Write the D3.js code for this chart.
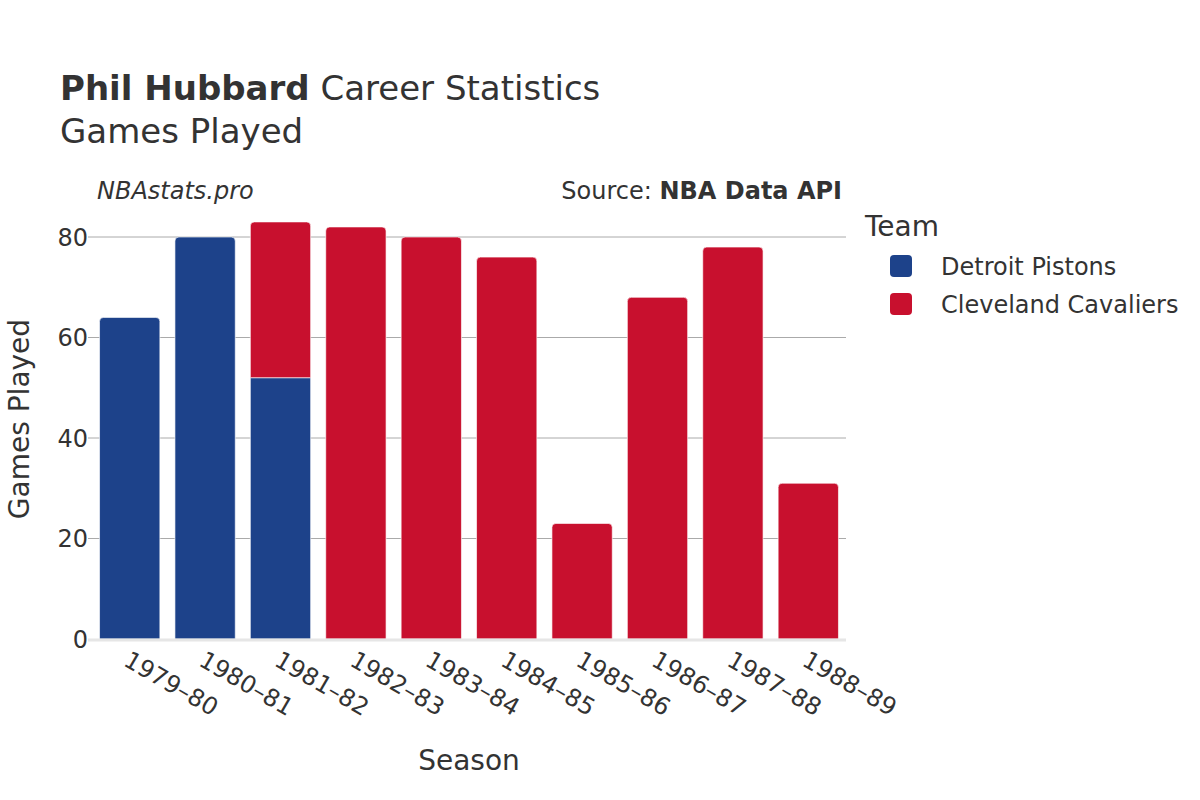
<!DOCTYPE html>
<html><head><meta charset="utf-8">
<script src="https://cdn.jsdelivr.net/npm/d3@7"></script>
<style>body{margin:0;background:#fff}svg{font-family:"DejaVu Sans",sans-serif}</style>
</head><body>
<svg id="c" width="1200" height="800"></svg>
<script>
const seasons = ["1979–80","1980–81","1981–82","1982–83","1983–84","1984–85","1985–86","1986–87","1987–88","1988–89"];
const teams = ["Detroit Pistons","Cleveland Cavaliers"];
const teamColors = ["#1d428a","#c8102e"];
const detroitGames = [64,80,52,0,0,0,0,0,0,0];
const clevelandGames = [0,0,31,82,80,76,23,68,78,31];
const yTicks = [0,20,40,60,80];

const svg = d3.select("#c");
const m = {l:92, r:846, t:213, b:639};
const x = d3.scaleBand().domain(seasons).range([m.l, m.r]).paddingInner(0.2).paddingOuter(0.1);
const y = d3.scaleLinear().domain([0,80]).range([m.b, 237]);

// grid
svg.append("g").selectAll("line").data(yTicks.filter(d=>d>0)).join("line")
  .attr("x1",m.l-4).attr("x2",m.r).attr("y1",d=>y(d)).attr("y2",d=>y(d))
  .attr("stroke","#aaaaaa").attr("stroke-width",1);

// bars
const series = [detroitGames, clevelandGames];
const r = 4;
function barPath(x0,w,y0,y1,round){
  if(!round) return `M${x0},${y0}V${y1}H${x0+w}V${y0}Z`;
  return `M${x0},${y0}V${y1+r}Q${x0},${y1} ${x0+r},${y1}H${x0+w-r}Q${x0+w},${y1} ${x0+w},${y1+r}V${y0}Z`;
}
seasons.forEach((s,i)=>{
  let base = 0;
  series.forEach((vals,k)=>{
    const v = vals[i];
    if(!v) return;
    const top = base + v;
    const isTop = series.slice(k+1).every(a=>!a[i]);
    svg.append("path")
      .attr("d", barPath(x(s), x.bandwidth(), y(base), y(top), isTop))
      .attr("fill", teamColors[k]).attr("stroke","#fff").attr("stroke-width",0.8).attr("stroke-opacity",0.8);
    base = top;
  });
});

// zero line
svg.append("line").attr("x1",m.l-4).attr("x2",m.r).attr("y1",y(0)+1).attr("y2",y(0)+1)
  .attr("stroke","#e6e6e6").attr("stroke-width",3);

// y axis labels
svg.append("g").selectAll("text").data(yTicks).join("text")
  .attr("x",88).attr("y",d=>y(d)).attr("dy","0.36em").attr("text-anchor","end")
  .attr("font-size",24).attr("fill","#333").text(d=>d);

// x axis labels
svg.append("g").selectAll("text").data(seasons).join("text")
  .attr("transform",d=>`translate(${x(d)+x.bandwidth()/2+1},${650}) rotate(30)`)
  .attr("dy","0.71em").attr("font-size",24).attr("fill","#333").text(d=>d);

// axis titles
svg.append("text").attr("x",(m.l+m.r)/2).attr("y",770).attr("text-anchor","middle")
  .attr("font-size",28).attr("fill","#333").text("Season");
svg.append("text").attr("transform",`translate(29,419) rotate(-90)`).attr("text-anchor","middle")
  .attr("font-size",28).attr("fill","#333").text("Games Played");

// titles
const t = svg.append("text").attr("x",60).attr("y",100).attr("font-size",34).attr("fill","#333");
t.append("tspan").attr("font-weight","bold").text("Phil Hubbard");
t.append("tspan").text(" Career Statistics");
svg.append("text").attr("x",60).attr("y",143).attr("font-size",34).attr("fill","#333").text("Games Played");
svg.append("text").attr("x",97).attr("y",199).attr("font-size",24).attr("font-style","italic").attr("fill","#333").text("NBAstats.pro");
const src = svg.append("text").attr("x",842).attr("y",199).attr("font-size",24).attr("text-anchor","end").attr("fill","#333");
src.append("tspan").text("Source: ");
src.append("tspan").attr("font-weight","bold").text("NBA Data API");

// legend
svg.append("text").attr("x",865).attr("y",236).attr("font-size",28).attr("fill","#333").text("Team");
const lg = svg.append("g").selectAll("g").data(teams).join("g")
  .attr("transform",(d,i)=>`translate(890,${266+i*38})`);
lg.append("rect").attr("x",0).attr("y",-11).attr("width",22).attr("height",22).attr("rx",4)
  .attr("fill",(d,i)=>teamColors[i]);
lg.append("text").attr("x",51).attr("y",0).attr("dy","0.36em").attr("font-size",24).attr("fill","#333").text(d=>d);
</script>
</body></html>
